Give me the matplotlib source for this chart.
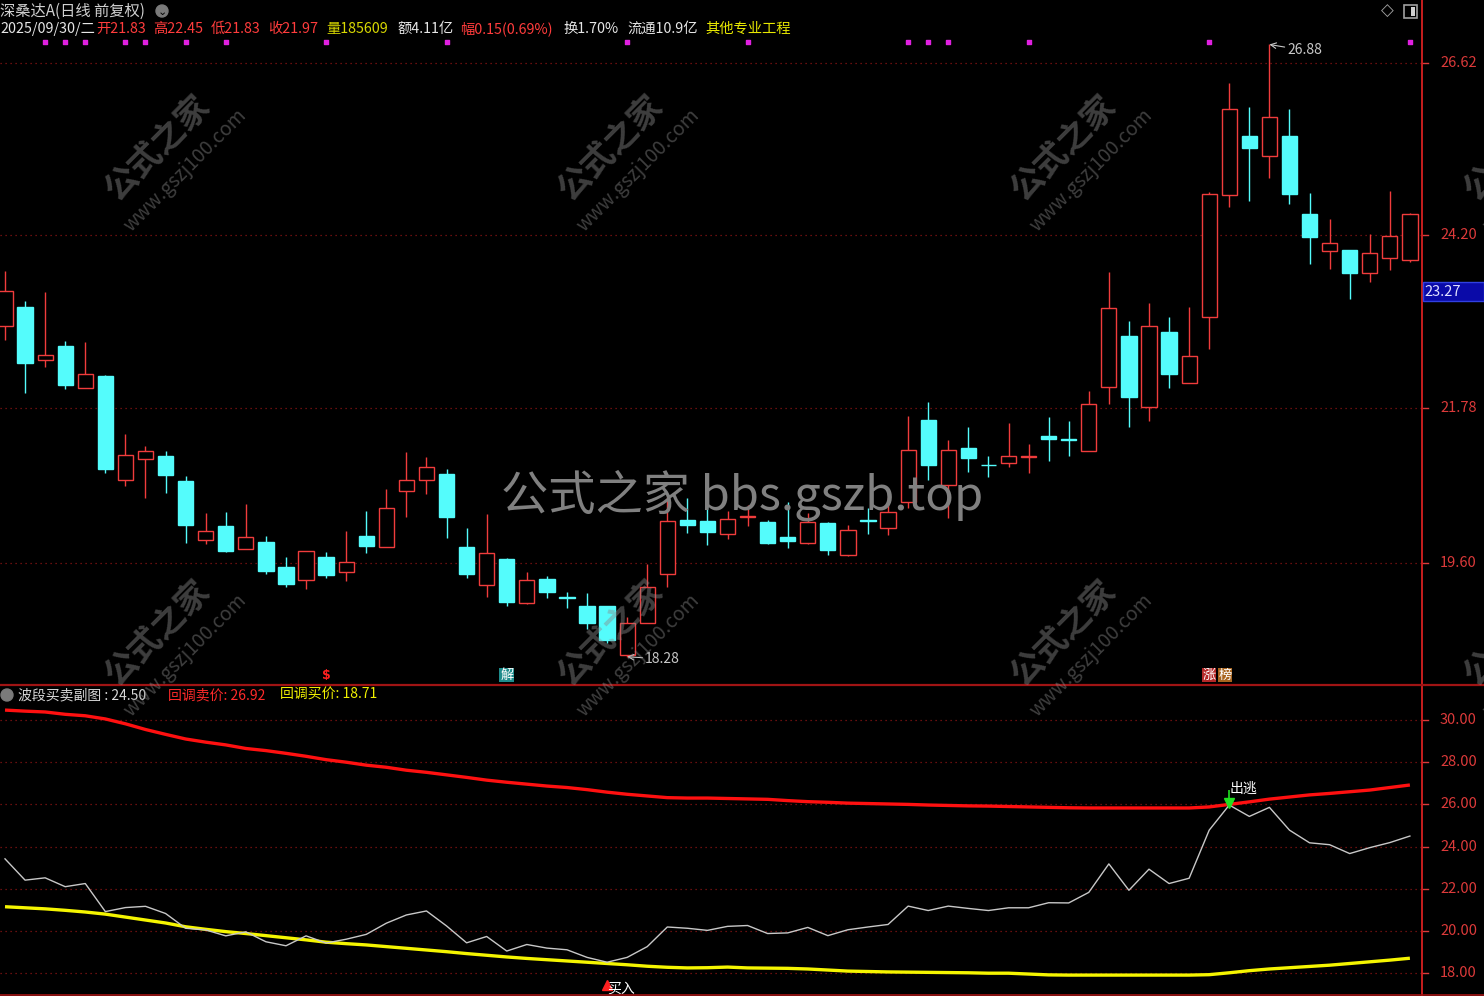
import matplotlib
matplotlib.use('Agg')
import matplotlib.pyplot as plt
from matplotlib.patches import Rectangle, Ellipse
from matplotlib.lines import Line2D

plt.rcParams['font.family'] = ['Noto Sans CJK SC', 'DejaVu Sans']

# ---------------- data ----------------
opens = [22.93, 23.19, 22.45, 22.65, 22.06, 22.22, 20.76, 21.06, 21.10, 20.75,
         19.92, 20.12, 19.79, 19.89, 19.54, 19.36, 19.68, 19.47, 19.98, 19.82,
         20.61, 20.76, 20.85, 19.82, 19.29, 19.65, 19.04, 19.37, 19.12, 18.99,
         18.99, 18.31, 18.75, 19.44, 20.20, 20.19, 20.00, 20.25, 20.17, 19.96,
         19.88, 20.16, 19.71, 20.20, 20.09, 20.45, 21.61, 20.69, 21.21, 20.98,
         21.00, 21.09, 21.38, 21.34, 21.17, 22.07, 22.79, 21.79, 22.84, 22.13,
         23.05, 24.77, 25.59, 25.31, 25.59, 24.50, 23.98, 23.99, 23.67, 23.88,
         23.85]
highs = [23.70, 23.28, 23.40, 22.72, 22.70, 22.24, 21.41, 21.24, 21.17, 20.82,
         20.30, 20.31, 20.43, 19.98, 19.68, 19.77, 19.75, 20.05, 20.33, 20.64,
         21.16, 21.09, 20.92, 20.09, 20.29, 19.67, 19.47, 19.42, 19.19, 19.18,
         18.99, 18.84, 19.58, 20.52, 20.51, 20.41, 20.33, 20.41, 20.20, 20.45,
         20.30, 20.17, 20.13, 20.37, 20.52, 21.66, 21.86, 21.32, 21.51, 21.10,
         21.56, 21.27, 21.65, 21.59, 22.01, 23.68, 23.00, 23.25, 23.05, 23.19,
         24.81, 26.34, 26.00, 26.88, 25.97, 24.79, 24.43, 23.99, 24.22, 24.82,
         24.52]
lows = [22.73, 21.99, 22.35, 22.04, 22.06, 20.86, 20.68, 20.51, 20.58, 19.88,
        19.86, 19.75, 19.79, 19.44, 19.26, 19.23, 19.39, 19.34, 19.74, 19.82,
        20.24, 20.57, 19.95, 19.39, 19.12, 18.99, 19.02, 19.11, 18.97, 18.67,
        18.47, 18.28, 18.75, 19.26, 20.02, 19.85, 19.93, 20.12, 19.86, 19.81,
        19.86, 19.71, 19.70, 20.00, 19.99, 20.37, 20.76, 20.23, 20.88, 20.81,
        20.95, 20.86, 21.03, 21.10, 21.17, 21.83, 21.51, 21.59, 22.06, 22.13,
        22.60, 24.60, 24.68, 25.00, 24.64, 23.80, 23.73, 23.31, 23.54, 23.71,
        23.83]
closes = [23.42, 22.41, 22.52, 22.10, 22.25, 20.92, 21.11, 21.17, 20.83, 20.13,
          20.05, 19.77, 19.96, 19.49, 19.30, 19.77, 19.43, 19.61, 19.84, 20.37,
          20.76, 20.95, 20.24, 19.44, 19.74, 19.05, 19.36, 19.19, 19.11, 18.75,
          18.52, 18.75, 19.26, 20.19, 20.13, 20.03, 20.22, 20.26, 19.88, 19.91,
          20.17, 19.78, 20.06, 20.19, 20.31, 21.18, 20.97, 21.18, 21.07, 20.97,
          21.10, 21.10, 21.34, 21.33, 21.83, 23.18, 21.93, 22.93, 22.25, 22.50,
          24.78, 25.97, 25.43, 25.86, 24.78, 24.18, 24.09, 23.67, 23.95, 24.19,
          24.50]
sell_line = [30.47, 30.42, 30.38, 30.27, 30.20, 30.05, 29.82, 29.55, 29.32, 29.10,
             28.95, 28.82, 28.65, 28.55, 28.42, 28.28, 28.12, 28.00, 27.86, 27.76,
             27.62, 27.52, 27.40, 27.28, 27.15, 27.05, 26.96, 26.87, 26.80, 26.70,
             26.58, 26.48, 26.40, 26.32, 26.30, 26.30, 26.28, 26.26, 26.24, 26.18,
             26.13, 26.10, 26.06, 26.04, 26.02, 26.00, 25.97, 25.95, 25.93, 25.92,
             25.90, 25.88, 25.86, 25.84, 25.83, 25.83, 25.83, 25.83, 25.83, 25.83,
             25.88, 26.00, 26.12, 26.25, 26.35, 26.45, 26.52, 26.60, 26.68, 26.80,
             26.92]
buy_line = [21.15, 21.10, 21.05, 20.98, 20.90, 20.80, 20.66, 20.52, 20.38, 20.20,
            20.08, 19.97, 19.88, 19.78, 19.68, 19.58, 19.47, 19.40, 19.34, 19.26,
            19.18, 19.10, 19.02, 18.93, 18.85, 18.77, 18.70, 18.64, 18.58, 18.52,
            18.46, 18.40, 18.33, 18.28, 18.25, 18.26, 18.29, 18.25, 18.24, 18.23,
            18.20, 18.15, 18.10, 18.08, 18.06, 18.05, 18.04, 18.03, 18.02, 18.00,
            18.00, 17.96, 17.92, 17.91, 17.91, 17.91, 17.91, 17.91, 17.91, 17.91,
            17.93, 18.02, 18.12, 18.20, 18.26, 18.32, 18.38, 18.46, 18.54, 18.62,
            18.71]
signal_dots = [2, 3, 4, 6, 7, 9, 11, 16, 22, 31, 37, 45, 46, 47, 51, 60, 70]
main_ticks = [26.62, 24.20, 21.78, 19.60]
sub_ticks = [30.00, 28.00, 26.00, 24.00, 22.00, 20.00, 18.00]
escape_idx = 61
buy_idx = 30
cursor_price = 23.27

# ---------------- layout ----------------
W, H = 1484, 996
fig = plt.figure(figsize=(W / 100, H / 100), dpi=100, facecolor='black')


def fx(px):
    return px / W


def fy(py):
    return 1 - py / H


X0, DX = 5.0, 20.07
AXR = 1422
MAIN_BOT = 684
SUB_TOP = 686


def price_at(py):
    return 26.62 - (py - 63) / 71.2


def sub_at(py):
    return 30.0 - (py - 720) / 21.1


RED = '#f03c3c'
CYAN = '#54fcfc'
GRID = '#8a1515'
TICKRED = '#dc3a3a'

ax = fig.add_axes([0, fy(MAIN_BOT), AXR / W, MAIN_BOT / H])
ax2 = fig.add_axes([0, 0, AXR / W, (H - SUB_TOP) / H])
for a in (ax, ax2):
    a.set_facecolor('black')
    a.set_xlim(-X0 / DX, (AXR - X0) / DX)
    for s in a.spines.values():
        s.set_visible(False)
    a.set_xticks([])
    a.set_yticks([])
ax.set_ylim(price_at(MAIN_BOT), price_at(0))
ax2.set_ylim(sub_at(H), sub_at(SUB_TOP))

# grid
for t in main_ticks:
    ax.axhline(t, color=GRID, lw=0.9, ls=(0, (1, 3)), zorder=0)
for t in sub_ticks:
    ax2.axhline(t, color=GRID, lw=0.9, ls=(0, (1, 3)), zorder=0)

# candles
bw = 0.76
for i, (o, h, l, c) in enumerate(zip(opens, highs, lows, closes)):
    if c > o:
        ax.vlines(i, c, h, color=RED, lw=1.0, zorder=2)
        ax.vlines(i, l, o, color=RED, lw=1.0, zorder=2)
        ax.add_patch(Rectangle((i - bw / 2, o), bw, c - o, facecolor='black',
                               edgecolor=RED, lw=1.0, zorder=3))
    else:
        ax.vlines(i, l, h, color=CYAN, lw=1.0, zorder=2)
        ax.add_patch(Rectangle((i - bw / 2, c), bw, o - c, facecolor=CYAN,
                               edgecolor=CYAN, lw=1.0, zorder=3))

# signal dots at top
ax.scatter(signal_dots, [1 - 42 / MAIN_BOT] * len(signal_dots), marker='s', s=5,
           color='#e020e0', transform=ax.get_xaxis_transform(), zorder=4, clip_on=False)

# high / low annotations
hi_i = max(range(len(highs)), key=lambda k: highs[k])
lo_i = min(range(len(lows)), key=lambda k: lows[k])
ax.annotate(f'{highs[hi_i]:.2f}', xy=(hi_i, highs[hi_i]), xytext=(18, -6),
            textcoords='offset pixels', color='#c8c8c8', fontsize=10, va='center',
            arrowprops=dict(arrowstyle='->', color='#c8c8c8', lw=0.8, shrinkA=0, shrinkB=0),
            zorder=6)
ax.annotate(f'{lows[lo_i]:.2f}', xy=(lo_i, lows[lo_i]), xytext=(18, -2),
            textcoords='offset pixels', color='#c8c8c8', fontsize=10, va='center',
            arrowprops=dict(arrowstyle='->', color='#c8c8c8', lw=0.8, shrinkA=0, shrinkB=0),
            zorder=6)

# bottom markers in main panel
ymark = 1 - 675 / MAIN_BOT
ax.text(16, ymark, '$', color='#ff2020', fontsize=9, ha='center', va='center',
        transform=ax.get_xaxis_transform(), fontweight='bold', family='DejaVu Sans')
ax.text(25, ymark, '解', color='white', fontsize=9.5, ha='center', va='center',
        transform=ax.get_xaxis_transform(),
        bbox=dict(boxstyle='square,pad=0.05', fc='#1e8c8c', ec='none'))
ax.text(60.0, ymark, '涨', color='white', fontsize=9.5, ha='center', va='center',
        transform=ax.get_xaxis_transform(),
        bbox=dict(boxstyle='square,pad=0.05', fc='#b42828', ec='none'))
ax.text(60.78, ymark, '榜', color='white', fontsize=9.5, ha='center', va='center',
        transform=ax.get_xaxis_transform(),
        bbox=dict(boxstyle='square,pad=0.05', fc='#a8641e', ec='none'))

# sub panel lines
xs = list(range(len(closes)))
ax2.plot(xs, sell_line, color='#ff1010', lw=2.4, zorder=3, solid_capstyle='butt')
ax2.plot(xs, buy_line, color='#f5f500', lw=2.4, zorder=3, solid_capstyle='butt')
ax2.plot(xs, closes, color='#c8c8c8', lw=1.0, zorder=4)
ax2.plot([escape_idx], [sell_line[escape_idx] + 0.05], marker='v', color='#20e020',
         ms=7, zorder=5)
ax2.vlines(escape_idx, sell_line[escape_idx], sell_line[escape_idx] + 0.7,
           color='#20e020', lw=1.2, zorder=5)
ax2.text(escape_idx + 0.7, sell_line[escape_idx] + 0.75, '出逃', color='white',
         fontsize=10, ha='center', va='center', zorder=6)
ax2.plot([buy_idx], [17.45], marker='^', color='#ff2020', ms=7, zorder=5, clip_on=False)
ax2.text(buy_idx + 0.7, 17.25, '买入', color='white', fontsize=10, ha='center',
         va='center', zorder=6, clip_on=False)

# right axis labels
for t in main_ticks:
    ax.text(1440 / AXR, t, f'{t:.2f}', color=TICKRED, fontsize=10.5, va='center',
            ha='left', transform=ax.get_yaxis_transform(), clip_on=False)
    ax.plot([1.0, 1428 / AXR], [t, t], color=TICKRED, lw=1,
            transform=ax.get_yaxis_transform(), clip_on=False)
for t in sub_ticks:
    ax2.text(1440 / AXR, t, f'{t:.2f}', color=TICKRED, fontsize=10.5, va='center',
             ha='left', transform=ax2.get_yaxis_transform(), clip_on=False)
    ax2.plot([1.0, 1428 / AXR], [t, t], color=TICKRED, lw=1,
             transform=ax2.get_yaxis_transform(), clip_on=False)

# cursor price box (placed where the crosshair cursor sits)
cur_py = 292
fig.add_artist(Rectangle((fx(1423), fy(cur_py + 9.5)), fx(1484) - fx(1423), 19 / H,
                         facecolor='#0a0aa8', edgecolor='#3040e0', lw=1, zorder=7))
fig.text(fx(1424), fy(cur_py), f'{cursor_price:.2f}', color='#e0e0ff', fontsize=10.5,
         va='center', ha='left', zorder=8)

# frame lines
fig.add_artist(Line2D([fx(AXR), fx(AXR)], [0, 1], color='#c81e1e', lw=1.4))
fig.add_artist(Line2D([0, 1], [fy(685), fy(685)], color='#a01414', lw=1.6))
fig.add_artist(Line2D([0, 1], [fy(995), fy(995)], color='#a01414', lw=1.2))

# watermarks (diagonal)
for cx in (158, 611, 1064, 1517):
    for cy in (148, 633):
        fig.text(fx(cx), fy(cy), '公式之家', color='#8a8a8a', alpha=0.45, fontsize=24,
                 rotation=45, ha='center', va='center', rotation_mode='anchor',
                 fontweight='bold', zorder=9)
        fig.text(fx(cx + 27), fy(cy + 22), 'www.gszj100.com', color='#8a8a8a', alpha=0.45,
                 fontsize=14, rotation=45, ha='center', va='center',
                 rotation_mode='anchor', zorder=9)
fig.text(fx(742), fy(495), '公式之家 bbs.gszb.top', color='#808080', fontsize=34,
         ha='center', va='center', zorder=10)

# header
fig.text(fx(0), fy(11), '深桑达A(日线 前复权)', color='#d0d0d0', fontsize=11,
         ha='left', va='center')
fig.add_artist(Ellipse((fx(162), fy(11)), 12 / W, 12 / H, color='#7a7a7a'))
fig.text(fx(162), fy(12), '⌄', color='black', fontsize=8, ha='center', va='center',
         family='DejaVu Sans')
header = [
    ('2025/09/30/二', '#e6e6e6', 0),
    ('开21.83', '#ff3c3c', 96),
    ('高22.45', '#ff3c3c', 153),
    ('低21.83', '#ff3c3c', 211),
    ('收21.97', '#ff3c3c', 268),
    ('量185609', '#d8d800', 326),
    ('额4.11亿', '#e6e6e6', 397),
    ('幅0.15(0.69%)', '#ff3c3c', 460),
    ('换1.70%', '#e6e6e6', 563),
    ('流通10.9亿', '#e6e6e6', 627),
    ('其他专业工程', '#e8e800', 705),
]
for txt, col, x in header:
    fig.text(fx(x), fy(29), txt, color=col, fontsize=10.3, ha='left', va='center')
fig.text(fx(1387), fy(11), '◇', color='#a0a0a0', fontsize=12, ha='center', va='center',
         family='DejaVu Sans')
fig.add_artist(Rectangle((fx(1404), fy(18)), 13 / W, 13 / H, facecolor='none',
                         edgecolor='#a0a0a0', lw=1.2))
fig.add_artist(Rectangle((fx(1411), fy(16)), 4 / W, 9 / H, facecolor='#d0d0d0',
                         edgecolor='none'))

# sub header
fig.add_artist(Ellipse((fx(7), fy(695)), 12 / W, 12 / H, color='#7a7a7a'))
fig.text(fx(18), fy(695), '波段买卖副图 : 24.50', color='#d8d8d8', fontsize=10,
         ha='left', va='center')
fig.text(fx(168), fy(695), f'回调卖价: {sell_line[-1]:.2f}', color='#ff2a2a',
         fontsize=10, ha='left', va='center')
fig.text(fx(280), fy(695), f'回调买价: {buy_line[-1]:.2f}', color='#f0f000',
         fontsize=10, ha='left', va='center')

fig.savefig('out.png', dpi=100, facecolor='black')
